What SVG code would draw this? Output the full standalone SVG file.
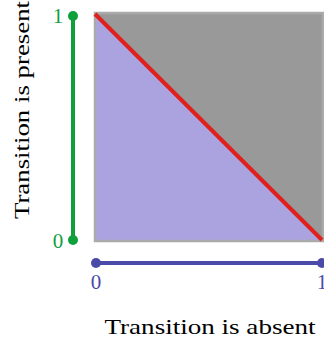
<svg xmlns="http://www.w3.org/2000/svg" width="324" height="341" viewBox="0 0 324 341">
<style>
text{font-family:"Liberation Serif","DejaVu Serif",serif;font-size:21px}
.t{font-size:22px}
.g{fill:#0fa03c}
.b{fill:#4a4aa8}
</style>
<rect width="324" height="341" fill="#fff"/>
<g id="square">
<polygon points="95,13 323,13 323,241" fill="#999999"/>
<polygon points="95,13 323,241 95,241" fill="#aba3e0"/>
<rect x="95" y="13" width="228" height="228" fill="none" stroke="#aaaaaa" stroke-width="2.5"/>
<line x1="95" y1="14" x2="322" y2="240" stroke="#e0201c" stroke-width="4"/>
</g>
<g id="yaxis">
<line x1="73" y1="16" x2="73" y2="240" stroke="#0fa03c" stroke-width="4"/>
<circle cx="73" cy="16" r="5" fill="#0fa03c"/>
<circle cx="73" cy="240" r="5" fill="#0fa03c"/>
<text class="g" x="58" y="23" text-anchor="middle">1</text>
<text class="g" x="58" y="248" text-anchor="middle">0</text>
<text class="t" transform="translate(29,110) rotate(-90)" text-anchor="middle" textLength="218" lengthAdjust="spacingAndGlyphs">Transition is present</text>
</g>
<g id="xaxis">
<line x1="96" y1="263" x2="322" y2="263" stroke="#4a4aa8" stroke-width="4"/>
<circle cx="96" cy="263" r="5" fill="#4a4aa8"/>
<circle cx="322" cy="263" r="5" fill="#4a4aa8"/>
<text class="b" x="96" y="289" text-anchor="middle">0</text>
<text class="b" x="322" y="289" text-anchor="middle">1</text>
<text class="t" x="210" y="334" text-anchor="middle" textLength="211" lengthAdjust="spacingAndGlyphs">Transition is absent</text>
</g>
</svg>
